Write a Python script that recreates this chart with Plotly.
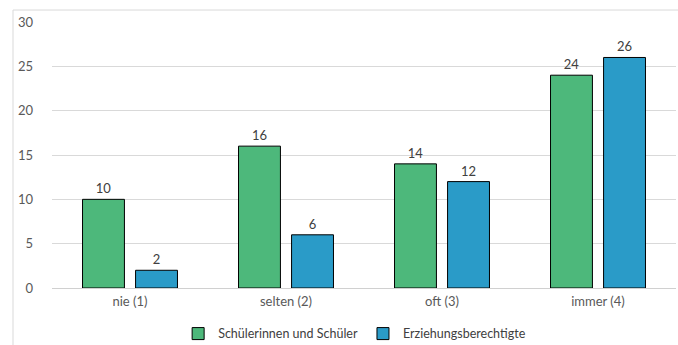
import plotly.graph_objects as go

categories = ["nie (1)", "selten (2)", "oft (3)", "immer (4)"]
schueler = [10, 16, 14, 24]
eltern = [2, 6, 12, 26]
series_names = ["Schülerinnen und Schüler", "Erziehungsberechtigte"]
colors = ["#4DB87B", "#2A9BC8"]

fig = go.Figure()
for name, vals, col in zip(series_names, [schueler, eltern], colors):
    fig.add_trace(go.Bar(
        x=categories, y=vals, name=name,
        marker=dict(color=col, line=dict(color="#000000", width=1)),
        text=vals, textposition="outside", cliponaxis=False,
        textfont=dict(size=13, color="#404040"),
    ))

fig.update_layout(
    width=678, height=345,
    margin=dict(l=52, r=2, t=22, b=57, autoexpand=False),
    paper_bgcolor="white", plot_bgcolor="white",
    font=dict(family="Lato, Open Sans, sans-serif", size=13, color="#595959"),
    barmode="group", bargap=0.32, bargroupgap=0.21,
    showlegend=True,
    legend=dict(orientation="h", x=0.485, xanchor="center",
                yref="container", y=0.032, yanchor="middle",
                font=dict(size=12.5, color="#404040"), itemwidth=30, tracegroupgap=0),
    xaxis=dict(showgrid=False, showline=False, ticks="", ticklabelstandoff=4,
               tickfont=dict(size=13, color="#595959")),
    yaxis=dict(range=[0, 30], dtick=5, showgrid=True, gridcolor="#D9D9D9", gridwidth=1,
               zeroline=True, zerolinecolor="#D0D0D0", zerolinewidth=1, showline=False,
               ticks="", ticklabelstandoff=18, tickfont=dict(size=13, color="#595959")),
    shapes=[dict(type="rect", xref="paper", yref="paper", x0=-0.0625, x1=1.2, y0=-0.6, y1=1.045,
                 line=dict(color="#D9D9D9", width=1), fillcolor="rgba(0,0,0,0)", layer="below")],
)

fig.write_html("out.html")
